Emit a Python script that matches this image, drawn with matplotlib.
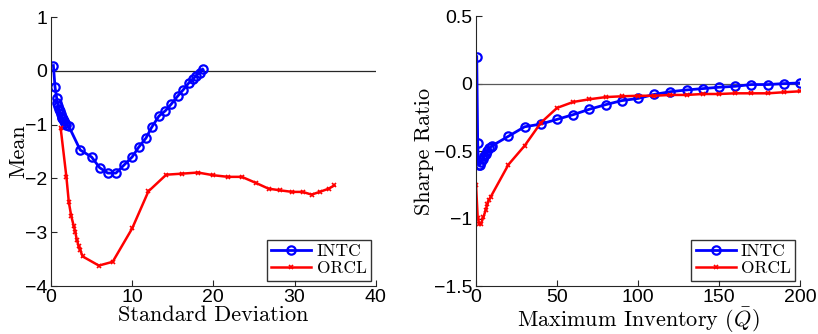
import matplotlib
matplotlib.use('Agg')
import matplotlib.pyplot as plt

plt.rcParams['mathtext.fontset'] = 'cm'

# left panel: mean vs standard deviation
intc_std = [0.3, 0.5, 0.7, 0.8, 0.9, 1.0, 1.1, 1.2, 1.3, 1.4, 1.5, 1.6, 1.7, 1.8, 2.2,
            3.6, 5.0, 6.0, 7.0, 8.0, 9.0, 10.0, 10.8, 11.7, 12.4, 13.3, 14.1, 14.8,
            15.6, 16.3, 17.0, 17.5, 17.9, 18.3, 18.7]
intc_mean = [0.1, -0.3, -0.5, -0.6, -0.65, -0.7, -0.75, -0.8, -0.85, -0.88, -0.9, -0.93,
             -0.96, -1.0, -1.03, -1.47, -1.6, -1.8, -1.9, -1.9, -1.75, -1.6, -1.42,
             -1.25, -1.05, -0.84, -0.74, -0.62, -0.47, -0.35, -0.22, -0.15, -0.09,
             -0.03, 0.03]
orcl_std = [1.2, 1.9, 2.2, 2.5, 2.8, 3.0, 3.2, 3.4, 3.6, 3.9, 5.9, 7.6, 10.0, 12.0,
            14.2, 16.2, 18.1, 20.0, 21.8, 23.5, 25.2, 26.8, 28.2, 29.7, 31.0, 32.1,
            33.1, 34.2, 34.9]
orcl_mean = [-1.07, -1.97, -2.44, -2.7, -2.88, -3.0, -3.15, -3.25, -3.33, -3.45, -3.62,
             -3.55, -2.93, -2.24, -1.93, -1.91, -1.89, -1.94, -1.97, -1.97, -2.08,
             -2.19, -2.22, -2.25, -2.25, -2.3, -2.25, -2.19, -2.13]

# right panel: sharpe ratio vs max inventory
intc_q = [0.4, 1, 1.5, 2.5, 3, 4, 5, 6, 7, 8, 9, 10, 20, 30, 40, 50, 60, 70, 80, 90,
          100, 110, 120, 130, 140, 150, 160, 170, 180, 190, 200]
intc_sr = [0.2, -0.44, -0.6, -0.6, -0.58, -0.56, -0.54, -0.52, -0.5, -0.48, -0.47,
           -0.46, -0.39, -0.32, -0.3, -0.265, -0.23, -0.19, -0.156, -0.126, -0.11,
           -0.08, -0.06, -0.047, -0.037, -0.027, -0.02, -0.007, -0.007, 0.0, 0.005]
orcl_q = [0, 1, 2, 3, 4.5, 6, 7, 8, 9, 20, 30, 40, 50, 60, 70, 80, 90, 100, 110, 120,
          130, 140, 150, 160, 170, 180, 190, 200]
orcl_sr = [-0.755, -0.995, -1.04, -1.04, -0.99, -0.935, -0.89, -0.86, -0.84, -0.6,
           -0.46, -0.29, -0.18, -0.136, -0.116, -0.1, -0.094, -0.09, -0.09, -0.084,
           -0.084, -0.077, -0.077, -0.072, -0.072, -0.072, -0.064, -0.057]

fig = plt.figure(figsize=(8.18, 3.34), dpi=100)
ax1 = fig.add_axes([0.0623, 0.1437, 0.397, 0.805])
ax2 = fig.add_axes([0.582, 0.1437, 0.396, 0.808])


def style(ax):
    for s in ['top', 'right']:
        ax.spines[s].set_visible(False)
    for s in ['left', 'bottom']:
        ax.spines[s].set_color('0.15')
        ax.spines[s].set_linewidth(0.8)
    ax.tick_params(direction='in', length=4, width=0.8, color='0.15', labelsize=14,
                   pad=2.5)
    for lab in ax.get_xticklabels() + ax.get_yticklabels():
        lab.set_family('Liberation Sans')


ax1.axhline(0, color='0.15', lw=0.9)
ax1.plot(intc_std, intc_mean, '-o', color='blue', lw=2, ms=6, mfc='none', mew=1.6,
         label='INTC')
ax1.plot(orcl_std, orcl_mean, '-x', color='red', lw=1.8, ms=3, mew=1.2, label='ORCL')
ax1.set_xlim(0, 40)
ax1.set_ylim(-4, 1)
ax1.set_xticks([0, 10, 20, 30, 40])
ax1.set_yticks([-4, -3, -2, -1, 0, 1])
ax1.set_xlabel('Standard Deviation', family='cmr10', fontsize=16, labelpad=-1)
ax1.set_ylabel('Mean', family='cmr10', fontsize=16, labelpad=-2)
style(ax1)

ax2.axhline(0, color='0.35', lw=0.9)
ax2.plot(intc_q, intc_sr, '-o', color='blue', lw=2, ms=6, mfc='none', mew=1.6,
         label='INTC')
ax2.plot(orcl_q, orcl_sr, '-x', color='red', lw=1.8, ms=3, mew=1.2, label='ORCL')
ax2.set_xlim(0, 200)
ax2.set_ylim(-1.5, 0.5)
ax2.set_xticks([0, 50, 100, 150, 200])
ax2.set_yticks([-1.5, -1, -0.5, 0, 0.5])
ax2.set_yticklabels(['\u22121.5', '\u22121', '\u22120.5', '0', '0.5'])
ax2.set_xlabel(r'Maximum Inventory ($\bar{Q}$)', family='cmr10', fontsize=16, labelpad=-1)
ax2.set_ylabel('Sharpe Ratio', family='cmr10', fontsize=16, labelpad=0)
style(ax2)

for ax in (ax1, ax2):
    leg = ax.legend(loc='lower right', bbox_to_anchor=(0.985, 0.02), fancybox=False,
                    edgecolor='black', borderaxespad=0, handlelength=2.3,
                    borderpad=0.25, labelspacing=0.1, handletextpad=0.3,
                    prop={'family': 'cmr10', 'size': 12.5})
    leg.get_frame().set_linewidth(1.0)

fig.savefig('out.png', dpi=100)
